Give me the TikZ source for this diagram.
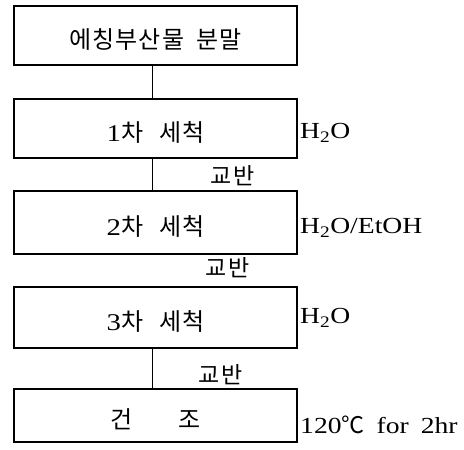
\documentclass[tikz,border=0pt]{standalone}
\usepackage{fontspec}
\setmainfont[FakeStretch=1.2]{Liberation Serif}
\newfontfamily\kr{Noto Sans CJK KR}
\newfontfamily\krn{Noto Sans CJK KR}
\newcommand{\gp}{\hspace{1pt}}
\begin{document}
\begin{tikzpicture}[x=1pt,y=-1pt,
  procbox/.style={draw, line width=1.5pt, minimum width=283pt, inner sep=0pt, text height=25pt, text depth=0pt, font=\fontsize{24}{28}\selectfont},
  conn/.style={line width=0.9pt},
  stirlabel/.style={font=\fontsize{23}{26}\selectfont\kr, inner sep=0pt},
  sidelabel/.style={anchor=west, inner sep=0pt, font=\fontsize{23}{26}\selectfont}]
\useasboundingbox (0,0) rectangle (464,450);
\node[procbox, minimum height=59pt] (b1) at (155.5,35.5) {\kr 에\gp 칭\gp 부\gp 산\gp 물\hspace{12pt}분\gp 말};
\node[procbox, minimum height=59pt] (b2) at (155.5,128.5) {1{\kr 차\hspace{16pt}세\gp 척}};
\node[procbox, minimum height=63pt] (b3) at (155.5,222.5) {2{\kr 차\hspace{16pt}세\gp 척}};
\node[procbox, minimum height=61pt] (b4) at (155.5,317.5) {3{\kr 차\hspace{16pt}세\gp 척}};
\node[procbox, minimum height=53pt] (b5) at (155.5,415.5) {{\kr 건}\hspace{46pt}{\kr 조}};
\draw[conn] ([xshift=-3.5pt]b1.south) -- ([xshift=-3.5pt]b2.north);
\draw[conn] ([xshift=-3.5pt]b2.south) -- ([xshift=-3.5pt]b3.north);
\draw[conn] ([xshift=-3.5pt]b4.south) -- ([xshift=-3.5pt]b5.north);
\node[stirlabel] (s1) at (233,176) {교\hspace{2pt}반};
\node[stirlabel] (s2) at (228,268) {교\hspace{2pt}반};
\node[stirlabel] (s3) at (221,375) {교\hspace{2pt}반};
\node[sidelabel] (r1) at (300,133) {H\textsubscript{2}O};
\node[sidelabel] (r2) at (300,228) {H\textsubscript{2}O/EtOH};
\node[sidelabel] (r3) at (300,318) {H\textsubscript{2}O};
\node[sidelabel] (r4) at (300,425) {120{\krn ℃}\hspace{12pt}for\hspace{12pt}2hr};
\end{tikzpicture}
\end{document}
